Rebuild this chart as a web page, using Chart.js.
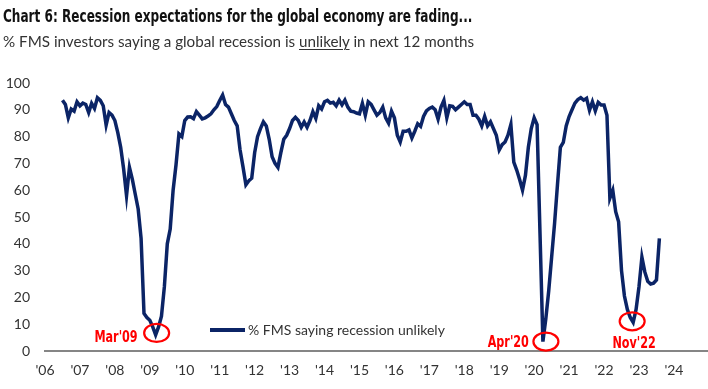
<!DOCTYPE html>
<html>
<head>
<meta charset="utf-8">
<script src="https://cdn.jsdelivr.net/npm/chart.js@4.4.1/dist/chart.umd.min.js"></script>
<style>
  body { margin: 0; background: #fff; }
  #wrap { position: relative; width: 708px; height: 389px; overflow: hidden; }
  #chart { position: absolute; left: 0; top: 0; }
  .title {
    position: absolute; left: 3px; top: 6px; white-space: nowrap;
    font-family: "DejaVu Sans Condensed", "DejaVu Sans", sans-serif;
    font-weight: bold; font-size: 17px; color: #111;
    transform: scaleX(0.79); transform-origin: left top;
  }
  .subtitle {
    position: absolute; left: 3px; top: 32px; white-space: nowrap;
    font-family: Lato, sans-serif; font-size: 15.2px; color: #333;
  }
  .subtitle u { text-decoration-thickness: 1px; text-underline-offset: 2px; }
</style>
</head>
<body>
<div id="wrap">
  <canvas id="chart" width="708" height="389"></canvas>
  <div class="title">Chart 6: Recession expectations for the global economy are fading...</div>
  <div class="subtitle">% FMS investors saying a global recession is <u>unlikely</u> in next 12 months</div>
</div>
<script>
// monthly readings, x = months since Jan 2006
const firstMonth = 6; // Jul 2006
const y2006 = [93.6, 92, 87, 90.3, 89.5, 93];
const y2007 = [91.5, 92.5, 92, 89, 92.4, 90.5, 94.5, 93.5, 91.5, 84.3, 89, 88];
const y2008 = [86, 81.5, 76, 68, 58, 68.5, 64, 58.5, 53, 42, 14, 12.5];
const y2009 = [11.5, 9, 6, 9, 13, 24, 40, 45.5, 60, 69.5, 81, 80];
const y2010 = [86, 87.3, 87.4, 86.7, 89.3, 88, 86.6, 87, 87.7, 88.5, 90, 91.2];
const y2011 = [93.5, 95.5, 92, 91, 88.5, 86, 84, 75, 68.7, 62, 63.5, 64.5];
const y2012 = [74, 80, 83, 85.5, 84, 79, 72.5, 70, 68.5, 74, 79, 80.5];
const y2013 = [83, 86, 87.2, 86, 83.5, 85.5, 83.5, 86, 89.3, 86.8, 91.5, 90.3];
const y2014 = [93, 93.5, 92.5, 92.8, 91.5, 93.6, 91.8, 93.6, 91, 89.5, 89.3, 88.8];
const y2015 = [88.5, 92.4, 88, 93, 92, 90, 88, 89, 91, 87, 85, 89.5];
const y2016 = [87, 80.5, 78, 82, 82, 82.5, 79.5, 82, 84.8, 83.8, 87.5, 89.6];
const y2017 = [90.5, 91, 90, 86.5, 91, 93.5, 87, 91.5, 91.3, 90, 91, 92];
const y2018 = [93, 92, 92, 88, 88, 86.5, 84, 87.5, 84, 85.5, 83, 80.5];
const y2019 = [75, 77, 78, 80.5, 84.5, 70.5, 67.5, 64, 60, 65.5, 76, 83];
const y2020 = [87, 84.5, 44, 3.5, 12, 22.5, 35, 47.5, 62, 76, 77.8, 84];
const y2021 = [87.5, 90, 92.5, 93.8, 94.5, 93.6, 94.3, 89.8, 93, 89.6, 92.8, 91.8];
const y2022 = [91.8, 88, 57, 60, 52, 48.2, 30, 20.5, 15.5, 12.5, 10.7, 15.5];
const y2023 = [24, 35, 29.5, 26, 25, 25.3, 26.5, 42];

const values = [].concat(y2006, y2007, y2008, y2009, y2010, y2011, y2012, y2013,
  y2014, y2015, y2016, y2017, y2018, y2019, y2020, y2021, y2022, y2023);

const tickYears = ["'06", "'07", "'08", "'09", "'10", "'11", "'12", "'13", "'14",
  "'15", "'16", "'17", "'18", "'19", "'20", "'21", "'22", "'23", "'24"];
const yTicks = [0, 10, 20, 30, 40, 50, 60, 70, 80, 90, 100];

// circled lows
const lowLabels = ["Mar'09", "Apr'20", "Nov'22"];
const lowMonths = [38, 171, 202];

const seriesName = "% FMS saying recession unlikely";
const navy = "#0b2466";
const red = "#ff0000";

const points = values.map((v, i) => ({ x: firstMonth + i, y: v }));

// red circles, their labels and the inline legend
const notesPlugin = {
  id: "notes",
  afterDatasetsDraw(chart) {
    const ctx = chart.ctx;
    const xs = chart.scales.x, ys = chart.scales.y;
    // label placement per note: [dx, dy, align, textDx, textDy]
    const place = [
      [1, -2, "right", -19, 5],
      [3, 0, "right", -17, 1],
      [-1, -1, "center", 2, 23]
    ];
    ctx.save();
    lowMonths.forEach((m, i) => {
      const v = values[m - firstMonth];
      const p = place[i];
      const cx = xs.getPixelForValue(m) + p[0];
      const cy = ys.getPixelForValue(v) + p[1];
      ctx.strokeStyle = red;
      ctx.lineWidth = 2.2;
      ctx.beginPath();
      ctx.ellipse(cx, cy, 12.5, 9, 0, 0, Math.PI * 2);
      ctx.stroke();
      // condensed red label
      ctx.save();
      ctx.translate(cx + p[3], cy + p[4]);
      ctx.scale(0.83, 1);
      ctx.fillStyle = red;
      ctx.font = 'bold 15px "DejaVu Sans Condensed", "DejaVu Sans", sans-serif';
      ctx.textAlign = p[2];
      ctx.textBaseline = "middle";
      ctx.fillText(lowLabels[i], 0, 0);
      ctx.restore();
    });
    // legend
    ctx.strokeStyle = navy;
    ctx.lineWidth = 4;
    ctx.beginPath();
    ctx.moveTo(210, 330);
    ctx.lineTo(245, 330);
    ctx.stroke();
    ctx.fillStyle = "#333";
    ctx.font = "14px Lato, sans-serif";
    ctx.textAlign = "left";
    ctx.textBaseline = "middle";
    ctx.fillText(seriesName, 248, 330);
    ctx.restore();
  }
};

new Chart(document.getElementById("chart"), {
  type: "line",
  data: {
    datasets: [{
      label: seriesName,
      data: points,
      borderColor: navy,
      borderWidth: 3.5,
      pointRadius: 0,
      tension: 0,
      fill: false
    }]
  },
  options: {
    responsive: false,
    animation: false,
    layout: { padding: { top: 83, left: 0, right: 0, bottom: 0 } },
    plugins: { legend: { display: false }, tooltip: { enabled: false } },
    scales: {
      x: {
        type: "linear",
        min: 0,
        max: 227.7,
        afterBuildTicks: (s) => { s.ticks = tickYears.map((t, i) => ({ value: i * 12 })); },
        afterFit: (s) => { s.height = 38; },
        grid: { display: false, drawTicks: false },
        border: { display: true, color: "#858585", width: 2 },
        ticks: {
          padding: 11,
          maxRotation: 0,
          autoSkip: false,
          color: "#333",
          font: { family: "Lato", size: 14 },
          callback: (v) => tickYears[Math.round(v / 12)]
        }
      },
      y: {
        min: 0,
        max: 100,
        afterBuildTicks: (s) => { s.ticks = yTicks.map((v) => ({ value: v })); },
        afterFit: (s) => { s.width = 45; },
        grid: { display: false, drawTicks: false },
        border: { display: false },
        ticks: {
          padding: 15,
          color: "#333",
          font: { family: "Lato", size: 14 }
        }
      }
    }
  },
  plugins: [notesPlugin]
});
</script>
</body>
</html>
